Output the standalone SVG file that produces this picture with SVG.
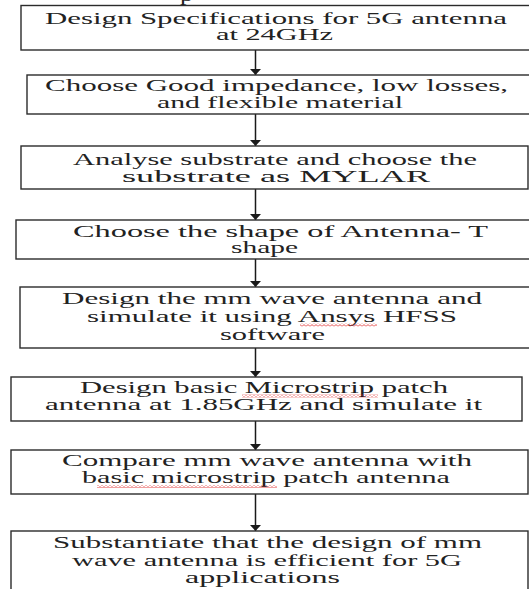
<svg xmlns="http://www.w3.org/2000/svg" width="529" height="589" viewBox="0 0 529 589">
<style>
  .box { fill: #ffffff; stroke: #2b2b2b; stroke-width: 1.4; }
  text { font-family: 'Liberation Serif', 'Times New Roman', Times, serif; font-size: 16px; fill: #222222; }
  .conn { stroke: #1a1a1a; stroke-width: 1.5; fill: none; }
</style>
<defs>
  <marker id="ah" viewBox="0 0 6 11" refX="6" refY="5.5" markerWidth="6" markerHeight="11" markerUnits="userSpaceOnUse" orient="auto">
    <path d="M0,0 L6,5.5 L0,11 z" fill="#1a1a1a"/>
  </marker>
  <pattern id="sq" x="0" y="0" width="4" height="3" patternUnits="userSpaceOnUse">
    <path d="M0,0.6 L2,2.4 L4,0.6" stroke="#e02828" stroke-width="0.8" fill="none"/>
  </pattern>
</defs>
<rect width="529" height="589" fill="#ffffff"/>
<text font-family="Liberation Serif, serif" x="180" y="1" textLength="13" lengthAdjust="spacingAndGlyphs">p</text>

<g id="connectors">
  <line class="conn" x1="255.5" y1="50" x2="255.5" y2="75" marker-end="url(#ah)"/>
  <line class="conn" x1="255.5" y1="114" x2="255.5" y2="146" marker-end="url(#ah)"/>
  <line class="conn" x1="255.5" y1="189" x2="255.5" y2="220" marker-end="url(#ah)"/>
  <line class="conn" x1="255.5" y1="259" x2="255.5" y2="287" marker-end="url(#ah)"/>
  <line class="conn" x1="255.5" y1="348" x2="255.5" y2="377" marker-end="url(#ah)"/>
  <line class="conn" x1="255.5" y1="421" x2="255.5" y2="450" marker-end="url(#ah)"/>
  <line class="conn" x1="255.5" y1="494" x2="255.5" y2="531" marker-end="url(#ah)"/>
</g>

<g id="node1" font-family="Liberation Serif, serif">
  <rect class="box" x="21" y="5.5" width="520" height="44.5"/>
  <text x="45" y="23.5" textLength="462" lengthAdjust="spacingAndGlyphs">Design Specifications for 5G antenna</text>
  <text x="216" y="40" textLength="117" lengthAdjust="spacingAndGlyphs">at 24GHz</text>
</g>
<g id="node2" font-family="Liberation Serif, serif">
  <rect class="box" x="27" y="75" width="514" height="39"/>
  <text x="45" y="91" textLength="463" lengthAdjust="spacingAndGlyphs">Choose Good impedance, low losses,</text>
  <text x="157" y="107.7" textLength="246" lengthAdjust="spacingAndGlyphs">and flexible material</text>
</g>
<g id="node3" font-family="Liberation Serif, serif">
  <rect class="box" x="21" y="146" width="507" height="43"/>
  <text x="73" y="165" textLength="404" lengthAdjust="spacingAndGlyphs">Analyse substrate and choose the</text>
  <text x="122" y="181.7" textLength="308" lengthAdjust="spacingAndGlyphs">substrate as MYLAR</text>
</g>
<g id="node4" font-family="Liberation Serif, serif">
  <rect class="box" x="16" y="220" width="525" height="39"/>
  <text x="73" y="236.7" textLength="415" lengthAdjust="spacingAndGlyphs">Choose the shape of Antenna- T</text>
  <text x="231" y="252.7" textLength="67" lengthAdjust="spacingAndGlyphs">shape</text>
</g>
<g id="node5" font-family="Liberation Serif, serif">
  <rect class="box" x="20" y="287" width="521" height="61"/>
  <text x="62" y="304" textLength="420" lengthAdjust="spacingAndGlyphs">Design the mm wave antenna and</text>
  <text x="87" y="321.7" textLength="370" lengthAdjust="spacingAndGlyphs">simulate it using Ansys HFSS</text>
  <text x="220" y="340" textLength="105" lengthAdjust="spacingAndGlyphs">software</text>
  <rect x="300" y="323.5" width="77" height="3" fill="url(#sq)"/>
</g>
<g id="node6" font-family="Liberation Serif, serif">
  <rect class="box" x="11" y="377" width="511" height="44"/>
  <text x="80" y="393" textLength="368" lengthAdjust="spacingAndGlyphs">Design basic Microstrip patch</text>
  <text x="45" y="410" textLength="437" lengthAdjust="spacingAndGlyphs">antenna at 1.85GHz and simulate it</text>
  <rect x="242" y="394.5" width="136" height="3" fill="url(#sq)"/>
</g>
<g id="node7" font-family="Liberation Serif, serif">
  <rect class="box" x="11" y="450" width="517" height="44"/>
  <text x="62" y="465.7" textLength="410" lengthAdjust="spacingAndGlyphs">Compare mm wave antenna with</text>
  <text x="82" y="483.3" textLength="368" lengthAdjust="spacingAndGlyphs">basic microstrip patch antenna</text>
  <rect x="97" y="485" width="180" height="3" fill="url(#sq)"/>
</g>
<g id="node8" font-family="Liberation Serif, serif">
  <rect class="box" x="11" y="531" width="517" height="70"/>
  <text x="53" y="548.3" textLength="429" lengthAdjust="spacingAndGlyphs">Substantiate that the design of mm</text>
  <text x="72" y="565.7" textLength="390" lengthAdjust="spacingAndGlyphs">wave antenna is efficient for 5G</text>
  <text x="185" y="582.7" textLength="155" lengthAdjust="spacingAndGlyphs">applications</text>
</g>
</svg>
